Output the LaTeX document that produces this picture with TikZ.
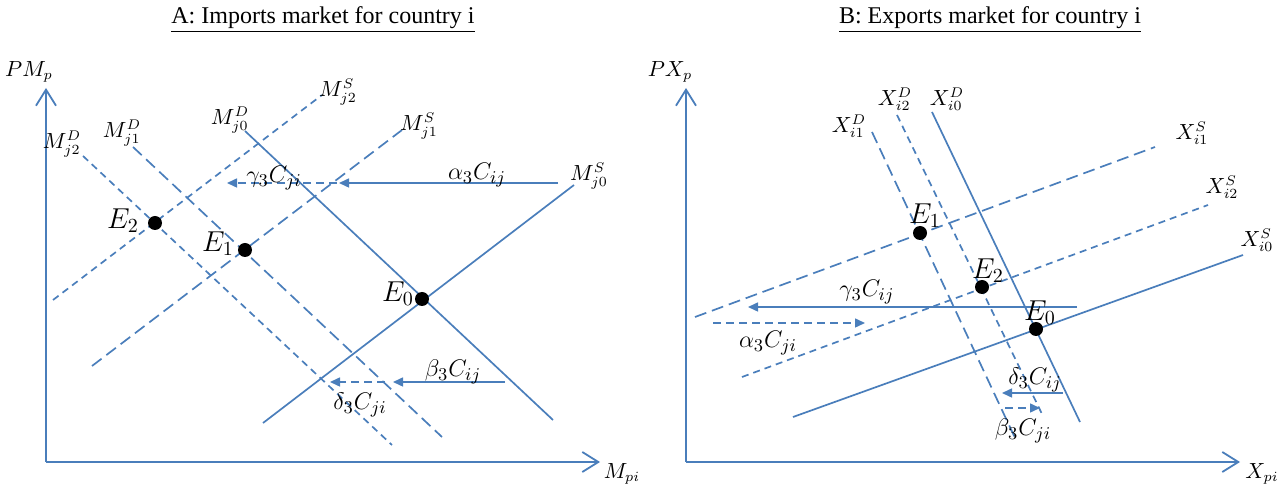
\documentclass[tikz,border=0pt]{standalone}
\usepackage{fontspec}
\setmainfont{Liberation Serif}
\usetikzlibrary{arrows.meta}
\definecolor{ln}{HTML}{4A7EBB}
\tikzset{
  curve/.style={draw=ln, line width=0.85pt},
  longdash/.style={curve, dash pattern=on 6pt off 3pt},
  shortdash/.style={curve, dash pattern=on 3.5pt off 2.5pt},
  axisline/.style={draw=ln, line width=1.1pt, -{Straight Barb[length=8pt,width=10pt,line width=0.9pt]}},
  mvarrow/.style={draw=ln, line width=0.75pt, -{Triangle[length=5pt,width=4.5pt]}},
  mvdash/.style={mvarrow, dash pattern=on 4pt off 2.5pt},
  dot/.style={circle, fill=black, inner sep=0pt, minimum size=7pt},
  lab/.style={inner sep=0.5pt, font=\fontsize{10.5}{12}\selectfont},
  eqlab/.style={inner sep=0.5pt, font=\fontsize{14}{16}\selectfont},
  shiftlab/.style={inner sep=0.5pt, font=\fontsize{12.5}{14}\selectfont},
  ttl/.style={inner sep=1pt, font=\fontsize{12}{14}\selectfont},
}
\begin{document}
\begin{tikzpicture}[x=0.5pt,y=-0.5pt]
\useasboundingbox (0,0) rectangle (1282,486);

% ================= Panel A =================
\node[ttl] (titleA) at (323,20) {\underline{A: Imports market for country i}};
\coordinate (Ao) at (46,462);
\coordinate (Ay) at (46,88);
\coordinate (Ax) at (600,462);
\draw[axisline] (Ao) -- (Ay);
\draw[axisline] (Ao) -- (Ax);
\node[lab] (PMp) at (29,72) {$PM_p$};
\node[lab] (Mpi) at (622,474) {$M_{pi}$};

% curves
\coordinate (MD0a) at (245,131); \coordinate (MD0b) at (553,420);
\coordinate (MS0a) at (263,423); \coordinate (MS0b) at (574,185);
\coordinate (MD1a) at (133,147); \coordinate (MD1b) at (442,437);
\coordinate (MD2a) at (83,156);  \coordinate (MD2b) at (392,445);
\coordinate (MS1a) at (92,366);  \coordinate (MS1b) at (402,130);
\coordinate (MS2a) at (53,300);  \coordinate (MS2b) at (322,95);
\draw[curve] (MD0a) -- (MD0b);
\draw[curve] (MS0a) -- (MS0b);
\draw[longdash] (MD1a) -- (MD1b);
\draw[shortdash] (MD2a) -- (MD2b);
\draw[longdash] (MS1a) -- (MS1b);
\draw[shortdash] (MS2a) -- (MS2b);

\node[lab] (lMD2) at (62,144) {$M_{j2}^{D}$};
\node[lab] (lMD1) at (122,133) {$M_{j1}^{D}$};
\node[lab] (lMD0) at (230,120) {$M_{j0}^{D}$};
\node[lab] (lMS2) at (338,92) {$M_{j2}^{S}$};
\node[lab] (lMS1) at (419,126) {$M_{j1}^{S}$};
\node[lab] (lMS0) at (589,176) {$M_{j0}^{S}$};

% shift arrows
\coordinate (aS) at (558,183); \coordinate (aT) at (339,183);
\coordinate (gS) at (337,183); \coordinate (gT) at (227,183);
\draw[mvarrow] (aS) -- (aT);
\draw[mvdash] (gS) -- (gT);
\node[shiftlab] (la) at (477,175) {$\alpha_3C_{ij}$};
\node[shiftlab] (lg) at (274,178) {$\gamma_3C_{ji}$};
\coordinate (bS) at (505,382); \coordinate (bT) at (393,382);
\coordinate (dS) at (385,382); \coordinate (dT) at (330,382);
\draw[mvarrow] (bS) -- (bT);
\draw[mvdash] (dS) -- (dT);
\node[shiftlab] (lb) at (453,372) {$\beta_3C_{ij}$};
\node[shiftlab] (ld) at (360,405) {$\delta_3C_{ji}$};

% equilibria
\node[dot] (AE2) at (155,223) {};
\node[dot] (AE1) at (245,250) {};
\node[dot] (AE0) at (422,299) {};
\node[eqlab] (lAE2) at (123,221) {$E_2$};
\node[eqlab] (lAE1) at (218,244) {$E_1$};
\node[eqlab] (lAE0) at (398,294) {$E_0$};

% ================= Panel B =================
\node[ttl] (titleB) at (990,20) {\underline{B: Exports market for country i}};
\coordinate (Bo) at (686,462);
\coordinate (By) at (686,88);
\coordinate (Bx) at (1240,462);
\draw[axisline] (Bo) -- (By);
\draw[axisline] (Bo) -- (Bx);
\node[lab] (PXp) at (670,72) {$PX_p$};
\node[lab] (Xpi) at (1262,474) {$X_{pi}$};

\coordinate (XD0a) at (932,112);  \coordinate (XD0b) at (1080,422);
\coordinate (XD1a) at (872,132);  \coordinate (XD1b) at (1016,440);
\coordinate (XD2a) at (897,115);  \coordinate (XD2b) at (1042,414);
\coordinate (XS0a) at (793,417);  \coordinate (XS0b) at (1243,255);
\coordinate (XS1a) at (695,317);  \coordinate (XS1b) at (1155,147);
\coordinate (XS2a) at (742,377);  \coordinate (XS2b) at (1208,205);
\draw[curve] (XD0a) -- (XD0b);
\draw[longdash] (XD1a) -- (XD1b);
\draw[shortdash] (XD2a) -- (XD2b);
\draw[curve] (XS0a) -- (XS0b);
\draw[longdash] (XS1a) -- (XS1b);
\draw[shortdash] (XS2a) -- (XS2b);

\node[lab] (lXD1) at (849,126) {$X_{i1}^{D}$};
\node[lab] (lXD2) at (895,99) {$X_{i2}^{D}$};
\node[lab] (lXD0) at (947,99) {$X_{i0}^{D}$};
\node[lab] (lXS1) at (1192,133) {$X_{i1}^{S}$};
\node[lab] (lXS2) at (1222,187) {$X_{i2}^{S}$};
\node[lab] (lXS0) at (1257,240) {$X_{i0}^{S}$};

\coordinate (gBS) at (1077,307); \coordinate (gBT) at (748,307);
\draw[mvarrow] (gBS) -- (gBT);
\node[shiftlab] (lgB) at (867,292) {$\gamma_3C_{ij}$};
\coordinate (aBS) at (713,323); \coordinate (aBT) at (865,323);
\draw[mvdash] (aBS) -- (aBT);
\node[shiftlab] (laB) at (768,343) {$\alpha_3C_{ji}$};
\coordinate (dBS) at (1063,393); \coordinate (dBT) at (1002,393);
\draw[mvarrow] (dBS) -- (dBT);
\node[shiftlab] (ldB) at (1035,380) {$\delta_3C_{ij}$};
\coordinate (bBS) at (1005,408); \coordinate (bBT) at (1040,408);
\draw[mvdash] (bBS) -- (bBT);
\node[shiftlab] (lbB) at (1023,431) {$\beta_3C_{ji}$};

\node[dot] (BE1) at (920,233) {};
\node[dot] (BE2) at (982,287) {};
\node[dot] (BE0) at (1036,329) {};
\node[eqlab] (lBE1) at (925,216) {$E_1$};
\node[eqlab] (lBE2) at (988,271) {$E_2$};
\node[eqlab] (lBE0) at (1040,313) {$E_0$};
\end{tikzpicture}
\end{document}
